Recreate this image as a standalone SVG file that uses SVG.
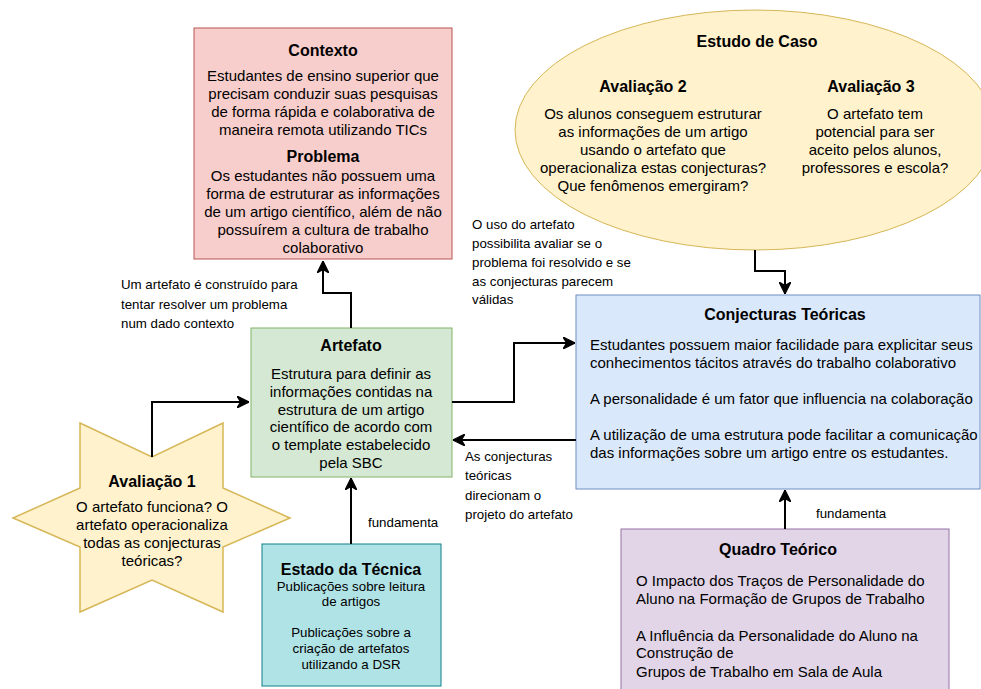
<svg xmlns="http://www.w3.org/2000/svg" width="981" height="689" viewBox="0 0 981 689">
<style>
text{font-family:"Liberation Sans",Arial,sans-serif;fill:#000}
.h{font-size:16px;font-weight:bold;text-anchor:middle}
.b{font-size:15px}
.c{text-anchor:middle}
.s{font-size:13.3px}
.e{fill:none;stroke:#000;stroke-width:2}
</style>
<defs>
<marker id="arr" markerUnits="userSpaceOnUse" markerWidth="12" markerHeight="12" refX="10" refY="5" orient="auto" viewBox="0 0 10 10">
<path d="M0,0 L10,5 L0,10 L3,5 Z" fill="#000" stroke="#000" stroke-width="1"/>
</marker>
</defs>
<rect width="981" height="689" fill="#fff"/>

<g id="contexto">
<rect x="194" y="28" width="258" height="231" fill="#f8cecc" stroke="#b85450"/>
<text class="h" x="323" y="56">Contexto</text>
<text class="b c" x="323" y="81">Estudantes de ensino superior que</text>
<text class="b c" x="323" y="99">precisam conduzir suas pesquisas</text>
<text class="b c" x="323" y="117">de forma rápida e colaborativa de</text>
<text class="b c" x="323" y="135">maneira remota utilizando TICs</text>
<text class="h" x="323" y="162">Problema</text>
<text class="b c" x="323" y="181">Os estudantes não possuem uma</text>
<text class="b c" x="323" y="199">forma de estruturar as informações</text>
<text class="b c" x="323" y="217">de um artigo científico, além de não</text>
<text class="b c" x="323" y="235">possuírem a cultura de trabalho</text>
<text class="b c" x="323" y="253">colaborativo</text>
</g>

<g id="estudo-de-caso">
<ellipse cx="755" cy="130" rx="240" ry="120" fill="#fff2cc" stroke="#d6b656"/>
<text class="h" x="757" y="47">Estudo de Caso</text>
<text class="h" x="643" y="92">Avaliação 2</text>
<text class="b c" x="653" y="119">Os alunos conseguem estruturar</text>
<text class="b c" x="653" y="137">as informações de um artigo</text>
<text class="b c" x="653" y="155">usando o artefato que</text>
<text class="b c" x="653" y="173">operacionaliza estas conjecturas?</text>
<text class="b c" x="653" y="191">Que fenômenos emergiram?</text>
<text class="h" x="871" y="92">Avaliação 3</text>
<text class="b c" x="875" y="119">O artefato tem</text>
<text class="b c" x="875" y="137">potencial para ser</text>
<text class="b c" x="875" y="155">aceito pelos alunos,</text>
<text class="b c" x="875" y="173">professores e escola?</text>
</g>

<g id="artefato">
<rect x="251" y="328" width="201" height="149" fill="#d5e8d4" stroke="#82b366"/>
<text class="h" x="351" y="351">Artefato</text>
<text class="b c" x="351" y="379">Estrutura para definir as</text>
<text class="b c" x="351" y="397">informações contidas na</text>
<text class="b c" x="351" y="415">estrutura de um artigo</text>
<text class="b c" x="351" y="432">científico de acordo com</text>
<text class="b c" x="351" y="450">o template estabelecido</text>
<text class="b c" x="351" y="468">pela SBC</text>
</g>

<g id="conjecturas">
<rect x="576" y="295" width="404" height="194" fill="#dae8fc" stroke="#6c8ebf"/>
<text class="h" x="785" y="320">Conjecturas Teóricas</text>
<text class="b" x="590" y="350">Estudantes possuem maior facilidade para explicitar seus</text>
<text class="b" x="590" y="368">conhecimentos tácitos através do trabalho colaborativo</text>
<text class="b" x="590" y="404">A personalidade é um fator que influencia na colaboração</text>
<text class="b" x="590" y="440">A utilização de uma estrutura pode facilitar a comunicação</text>
<text class="b" x="590" y="458">das informações sobre um artigo entre os estudantes.</text>
</g>

<g id="avaliacao1">
<polygon points="80,423 152,457 223,423 223,488 290,518 223,547 223,612 152,580 80,612 80,547 13,518 80,488" fill="#fff2cc" stroke="#d6b656" stroke-width="1.5"/>
<text class="h" x="152" y="487">Avaliação 1</text>
<text class="b c" x="152" y="512">O artefato funciona? O</text>
<text class="b c" x="152" y="530">artefato operacionaliza</text>
<text class="b c" x="152" y="548">todas as conjecturas</text>
<text class="b c" x="152" y="566">teóricas?</text>
</g>

<g id="estado-da-tecnica">
<rect x="262" y="544" width="179" height="142" fill="#b0e3e6" stroke="#0e8088"/>
<text class="h" x="351" y="575">Estado da Técnica</text>
<text class="s c" x="351" y="591">Publicações sobre leitura</text>
<text class="s c" x="351" y="606">de artigos</text>
<text class="s c" x="351" y="637">Publicações sobre a</text>
<text class="s c" x="351" y="653">criação de artefatos</text>
<text class="s c" x="351" y="669">utilizando a DSR</text>
</g>

<g id="quadro-teorico">
<rect x="621" y="529" width="328" height="170" fill="#e1d5e7" stroke="#9673a6"/>
<text class="h" x="778" y="555">Quadro Teórico</text>
<text class="b" x="636" y="586">O Impacto dos Traços de Personalidade do</text>
<text class="b" x="636" y="604">Aluno na Formação de Grupos de Trabalho</text>
<text class="b" x="636" y="641">A Influência da Personalidade do Aluno na</text>
<text class="b" x="636" y="658">Construção de</text>
<text class="b" x="636" y="677">Grupos de Trabalho em Sala de Aula</text>
</g>

<g id="connectors">
<path class="e" d="M351,328 V293 H323 V261" marker-end="url(#arr)"/>
<path class="e" d="M152,457 V402 H249" marker-end="url(#arr)"/>
<path class="e" d="M452,402 H514 V343 H575" marker-end="url(#arr)"/>
<path class="e" d="M576,440 H453" marker-end="url(#arr)"/>
<path class="e" d="M755,250 V271 H785 V294" marker-end="url(#arr)"/>
<path class="e" d="M351,544 V478" marker-end="url(#arr)"/>
<path class="e" d="M785,529 V490" marker-end="url(#arr)"/>
<text class="s" x="121" y="289">Um artefato é construído para</text>
<text class="s" x="121" y="309">tentar resolver um problema</text>
<text class="s" x="121" y="328">num dado contexto</text>
<text class="s" x="472" y="229">O uso do artefato</text>
<text class="s" x="472" y="248">possibilita avaliar se o</text>
<text class="s" x="472" y="267">problema foi resolvido e se</text>
<text class="s" x="472" y="286">as conjecturas parecem</text>
<text class="s" x="472" y="304">válidas</text>
<text class="s" x="465" y="461">As conjecturas</text>
<text class="s" x="465" y="480">teóricas</text>
<text class="s" x="465" y="500">direcionam o</text>
<text class="s" x="465" y="519">projeto do artefato</text>
<text class="s" x="368" y="527">fundamenta</text>
<text class="s" x="816" y="518">fundamenta</text>
</g>
</svg>
